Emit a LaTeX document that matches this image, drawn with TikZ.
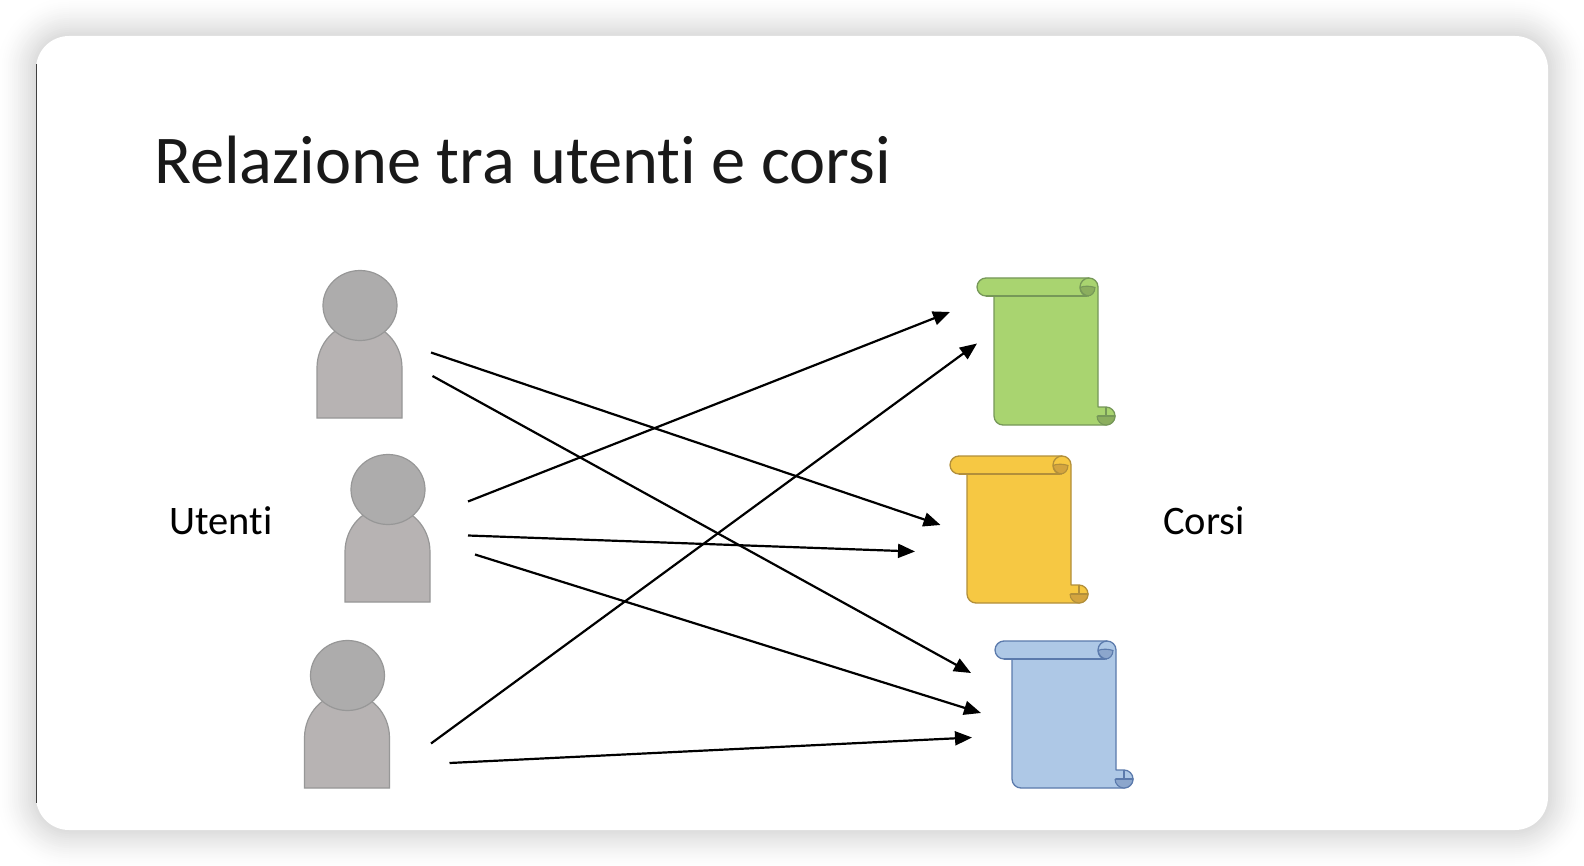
\documentclass[tikz,border=0pt]{standalone}
\usepackage{fontspec}
\setmainfont{Carlito}[Ligatures=NoCommon]
\usetikzlibrary{arrows.meta}
\definecolor{persbody}{HTML}{B7B3B3}
\definecolor{pershead}{HTML}{ADACAC}
\definecolor{persline}{HTML}{979797}
\definecolor{gfill}{HTML}{A9D470}\definecolor{gline}{HTML}{769858}\definecolor{gdark}{HTML}{8BAE5E}
\definecolor{yfill}{HTML}{F6C843}\definecolor{yline}{HTML}{B28F3A}\definecolor{ydark}{HTML}{D3A43F}
\definecolor{bfill}{HTML}{AEC8E6}\definecolor{bline}{HTML}{5B7AAC}\definecolor{bdark}{HTML}{8CA6CC}
\tikzset{
  x=1pt,y=-1pt,
  link/.style={line width=2.2pt,draw=black,-{Triangle[length=17pt,width=14pt]}},
  label/.style={font=\fontsize{40.5}{40.5}\selectfont,text=black,inner sep=0pt},
  pics/person/.style={code={
    \draw[fill=persbody,draw=persline,line width=1.2pt] (-43,113) -- (-43,63) arc[start angle=180,end angle=360,x radius=42.5,y radius=45] -- (42,113) -- cycle;
    \draw[fill=pershead,draw=persline,line width=1.2pt] (0,0.5) ellipse[x radius=37,y radius=35];
  }},
  pics/scrollshape/.style n args={3}{code={
    \draw[fill=#1,draw=#2,line width=1.3pt,line join=round]
      (17,18) -- (17,138) arc[start angle=180,end angle=90,radius=9] -- (129,147)
      arc[start angle=90,end angle=-90,radius=9] -- (121,129) -- (121,9)
      arc[start angle=0,end angle=-90,radius=9] -- (9,0)
      arc[start angle=270,end angle=90,radius=9] -- cycle;
    \draw[draw=#2,line width=1.3pt] (9,18) -- (110,18);
    \draw[fill=#3,draw=#2,line width=1.1pt] (103,9.5) .. controls (107,7.5) and (114,8) .. (118,9.5) arc[start angle=0,end angle=180,x radius=7.5,y radius=8.5];
    \draw[draw=#2,line width=1.3pt] (112,0) arc[start angle=-90,end angle=-270,radius=9];
    \draw[fill=#3,draw=#2,line width=1.1pt] (120,138) -- (138,138) arc[start angle=0,end angle=180,radius=9];
    \draw[draw=#2,line width=1.1pt] (129,129) -- (129,138) (121,138) -- (138,138);
  }}
}
\begin{document}
\begin{tikzpicture}
\useasboundingbox (0,0) rectangle (1584,866);
% soft shadow
\foreach \s in {40,38,...,0}{
  \definecolor{shd}{gray}{\fpeval{1-0.14*(1-\s/40)^1.5}}
  \fill[shd,rounded corners=\fpeval{34+\s}pt] (36-\s,36-\s) rectangle (1548+\s,830+\s);
}
% card
\fill[white,rounded corners=33pt] (36,36) rectangle (1548,830);
\draw[line width=1pt,color=black!75] (36.5,64) -- (36.5,803);
% title and labels
\node[anchor=base west,inner sep=0pt,text=black!90,font=\fontsize{68.4}{68.4}\selectfont] (title) at (154,184) {Relazione tra utenti e corsi};
\node[label] (utenti) at (221,521) {Utenti};
\node[label] (corsi) at (1204,521) {Corsi};
% people
\pic at (360,305) {person};
\pic at (388,489) {person};
\pic at (347.5,675) {person};
% scrolls
\pic at (977,278) {scrollshape={gfill}{gline}{gdark}};
\pic at (950,456) {scrollshape={yfill}{yline}{ydark}};
\pic at (995,641) {scrollshape={bfill}{bline}{bdark}};
% connector ends
\coordinate (a1) at (431,352.5); \coordinate (a2) at (432.5,376);
\coordinate (b1) at (468,501.5); \coordinate (b2) at (468,535.5); \coordinate (b3) at (475,554.5);
\coordinate (c1) at (431,743.5); \coordinate (c2) at (449.5,763);
\coordinate (gA) at (950,312);   \coordinate (gB) at (977,343.5);
\coordinate (yA) at (940.5,525); \coordinate (yB) at (915,551.5);
\coordinate (lA) at (971,673);   \coordinate (lB) at (981,713);  \coordinate (lC) at (972,737.5);
\draw[link] (a1) -- (yA);
\draw[link] (a2) -- (lA);
\draw[link] (b1) -- (gA);
\draw[link] (b2) -- (yB);
\draw[link] (b3) -- (lB);
\draw[link] (c1) -- (gB);
\draw[link] (c2) -- (lC);
\end{tikzpicture}
\end{document}
